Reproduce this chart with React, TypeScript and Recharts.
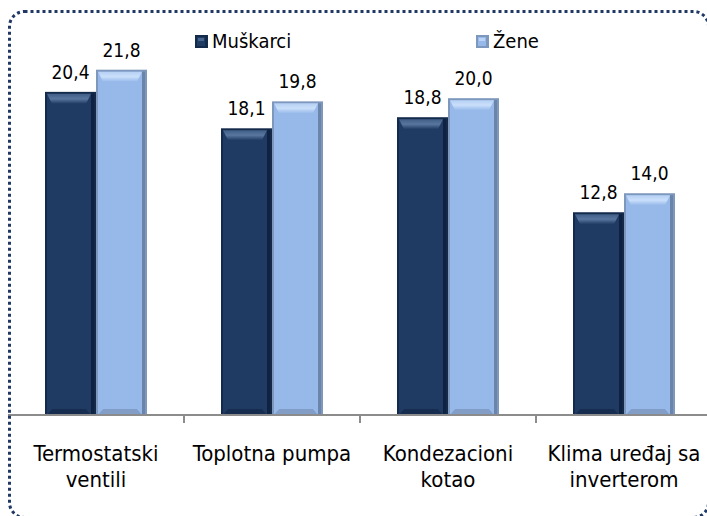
import React from "react";
import { BarChart, Bar, XAxis, YAxis, LabelList, Legend } from "recharts";

// chart values
const categories = ["Termostatski\nventili", "Toplotna pumpa", "Kondezacioni\nkotao", "Klima uređaj sa\ninverterom"];
const muskarci = [20.4, 18.1, 18.8, 12.8];
const zene = [21.8, 19.8, 20.0, 14.0];
const seriesNames = ["Muškarci", "Žene"];

const data = categories.map((name, i) => ({
  name,
  muskarci: muskarci[i],
  zene: zene[i],
}));

const FONT = "'DejaVu Sans Condensed', 'DejaVu Sans', sans-serif";

type Palette = { edge: string; body: string; hi: string; side: string; id: string };

const DARK: Palette = { edge: "#142a4b", body: "#1f3a63", hi: "#58769f", side: "#10223f", id: "gDark" };
const LIGHT: Palette = { edge: "#7d97bd", body: "#97b9ea", hi: "#cadffa", side: "#6b84aa", id: "gLight" };

const BevelBar = (props: any) => {
  const { x, y, width, height, pal } = props;
  if (!height || height <= 0) return null;
  const p: Palette = pal;
  const w = width;
  const h = height;
  return (
    <g>
      <rect x={x} y={y} width={w} height={h} fill={p.edge} />
      <rect x={x + 2} y={y + 2} width={w - 7} height={h - 2} fill={p.body} />
      <rect x={x + w - 5} y={y + 2} width={3} height={h - 2} fill={p.side} />
      <polygon
        points={`${x + 2},${y + 2} ${x + w - 5},${y + 2} ${x + w - 10},${y + 12} ${x + 7},${y + 12}`}
        fill={`url(#${p.id})`}
      />
      <polygon
        points={`${x + 7},${y + h - 6} ${x + w - 10},${y + h - 6} ${x + w - 5},${y + h} ${x + 2},${y + h}`}
        fill={p.edge}
        opacity={0.8}
      />
    </g>
  );
};

const fmt = (v: any) => Number(v).toFixed(1).replace(".", ",");

const CategoryTick = (props: any) => {
  const { x, y, payload, index } = props;
  const lines = String(payload.value).split("\n");
  const half = payload.offset || 0;
  return (
    <g>
      {index > 0 && half > 0 && (
        <line x1={x - half} x2={x - half} y1={y} y2={y + 8} stroke="#8c8c8c" strokeWidth={2} />
      )}
      <text x={x} y={y + 46} textAnchor="middle" fontFamily={FONT} fontSize={22} fill="#000">
        {lines.map((l, i) => (
          <tspan key={i} x={x} dy={i === 0 ? 0 : 26}>
            {l}
          </tspan>
        ))}
      </text>
    </g>
  );
};

const LegendSquare = ({ pal }: { pal: Palette }) => (
  <svg width={13} height={13} style={{ display: "block" }}>
    <rect x={0} y={0} width={13} height={13} fill={pal.edge} />
    <rect x={2} y={2} width={8} height={9} fill={pal.body} />
    <rect x={3} y={3} width={6} height={3} fill={pal.hi} opacity={0.7} />
  </svg>
);

const renderLegend = () => {
  const pals = [DARK, LIGHT];
  const lefts = [195, 476];
  return (
    <div style={{ position: "relative", width: 707, height: 26 }}>
      {seriesNames.map((n, i) => (
        <div
          key={n}
          style={{
            position: "absolute",
            left: lefts[i],
            top: 0,
            display: "flex",
            alignItems: "center",
            gap: 4,
            fontFamily: FONT,
            fontSize: 20,
            color: "#000",
            lineHeight: "26px",
          }}
        >
          <LegendSquare pal={pals[i]} />
          <span>{n}</span>
        </div>
      ))}
    </div>
  );
};

export default function App() {
  return (
    <div style={{ position: "absolute", left: 0, top: 0, width: 707, height: 516, overflow: "hidden", background: "#fff" }}>
      <BarChart
        width={712}
        height={516}
        data={data}
        margin={{ top: 19, right: 0, left: 8, bottom: 0 }}
        barCategoryGap={37}
        barGap={0}
      >
        <defs>
          {[DARK, LIGHT].map((p) => (
            <linearGradient key={p.id} id={p.id} x1="0" y1="0" x2="0" y2="1">
              <stop offset="0%" stopColor={p.hi} stopOpacity={0.6} />
              <stop offset="50%" stopColor={p.hi} />
              <stop offset="100%" stopColor={p.body} />
            </linearGradient>
          ))}
        </defs>
        <XAxis
          dataKey="name"
          height={101}
          tickLine={false}
          tickSize={0}
          tickMargin={0}
          axisLine={{ stroke: "#8c8c8c", strokeWidth: 2 }}
          tick={<CategoryTick />}
          interval={0}
        />
        <YAxis hide domain={[0, 25]} />
        <Legend
          layout="horizontal"
          verticalAlign="middle"
          align="center"
          wrapperStyle={{ top: 28, left: 0, width: 707 }}
          content={renderLegend}
        />
        <Bar
          dataKey="muskarci"
          name={seriesNames[0]}
          fill={DARK.body}
          isAnimationActive={false}
          shape={(p: any) => <BevelBar {...p} pal={DARK} />}
        >
          <LabelList dataKey="muskarci" position="top" offset={13} formatter={fmt} fill="#000" fontFamily={FONT} fontSize={19} />
        </Bar>
        <Bar
          dataKey="zene"
          name={seriesNames[1]}
          fill={LIGHT.body}
          isAnimationActive={false}
          shape={(p: any) => <BevelBar {...p} pal={LIGHT} />}
        >
          <LabelList dataKey="zene" position="top" offset={13} formatter={fmt} fill="#000" fontFamily={FONT} fontSize={19} />
        </Bar>
      </BarChart>
      <svg width={707} height={516} style={{ position: "absolute", left: 0, top: 0, pointerEvents: "none" }}>
        <rect
          x={9.5}
          y={11.5}
          width={699}
          height={506}
          rx={15}
          fill="none"
          stroke="#1f3864"
          strokeWidth={3}
          strokeDasharray="3 3"
        />
      </svg>
    </div>
  );
}
